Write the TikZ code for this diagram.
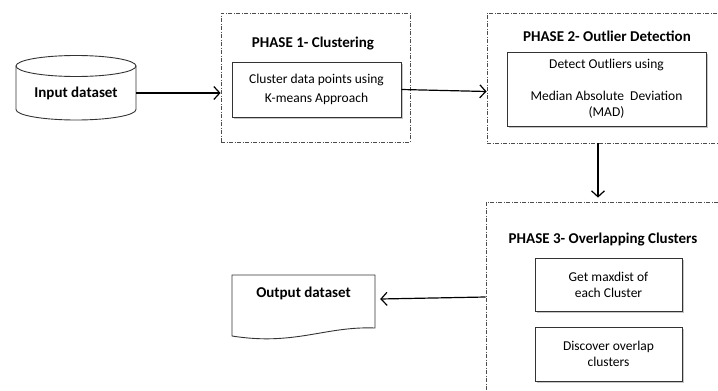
\documentclass[tikz,border=0pt]{standalone}
\usepackage{fontspec}
\setmainfont{Carlito}
\usetikzlibrary{arrows.meta,shadows,calc}
\begin{document}
\begin{tikzpicture}[x=1pt,y=-1pt,
  phase/.style={draw=black!70,line width=0.8pt,dash pattern=on 4pt off 1.5pt on 1pt off 1.5pt,minimum width=#1},
  inner/.style={draw=black!80,line width=0.9pt,fill=white,align=center,
     drop shadow={shadow xshift=1.5pt,shadow yshift=-1.5pt,fill=black!50,opacity=0.45},
     font=\fontsize{13.5}{16}\selectfont},
  ttl/.style={font=\bfseries\fontsize{15}{17}\selectfont},
  arr/.style={line width=1.2pt,-{Straight Barb[length=6pt,width=13pt,line width=1.2pt]}},
  shp/.style={draw=black!80,line width=0.9pt}]
\useasboundingbox (0,0) rectangle (718,391);
% phase containers
\node[phase=189pt,minimum height=129pt] (p1) at (315.5,77.5) {};
\node[phase=250pt,minimum height=130pt] (p2) at (612,78) {};
\node[phase=244pt,minimum height=200pt] (p3) at (608,302) {};
% titles
\node[ttl] (t1) at (313,44) {PHASE 1- Clustering};
\node[ttl] (t2) at (607,36) {PHASE 2- Outlier Detection};
\node[ttl] (t3) at (603,240) {PHASE 3- Overlapping Clusters};
% inner boxes
\node[inner,minimum width=169pt,minimum height=55pt,font=\fontsize{13.5}{19}\selectfont] (c1) at (316.5,89.5) {Cluster data points using\\K-means Approach};
\node[inner,minimum width=199pt,minimum height=74pt] (d2) at (606.5,89) {Detect Outliers using\\[16pt]Median Absolute\ \ Deviation\\(MAD)};
\node[inner,minimum width=147pt,minimum height=53pt] (e1) at (608.5,284.5) {Get maxdist of\\each Cluster};
\node[inner,minimum width=147pt,minimum height=54pt] (e2) at (608.5,354) {Discover overlap\\clusters};
% input cylinder
\draw[shp] (16,66) -- (16,109.5) .. controls (16,115.3) and (42.9,120) .. (76,120)
  .. controls (109.1,120) and (136,115.3) .. (136,109.5) -- (136,66);
\draw[shp] (76,66) ellipse [x radius=60, y radius=10.5];
\node[ttl,minimum width=120pt,minimum height=54pt] (in) at (76,93) {Input dataset};
% output document
\draw[shp] (232,275) -- (375,275) -- (375,328) .. controls (325,326) and (295,346) .. (232,336) -- cycle;
\node[ttl,minimum width=143pt,minimum height=36pt] (od) at (303.5,293) {Output dataset};
% connectors
\coordinate (m) at (598,0);
\draw[arr] (in.east) -- (in.east -| p1.west);
\draw[arr] (c1.east) -- ([yshift=-2pt]c1.east -| p2.west);
\draw[arr] (p2.south -| m) -- ([yshift=4pt]p3.north -| m);
\draw[arr] ([yshift=5pt]p3.west) -- ([xshift=5pt,yshift=-6pt]od.east);
\end{tikzpicture}
\end{document}
